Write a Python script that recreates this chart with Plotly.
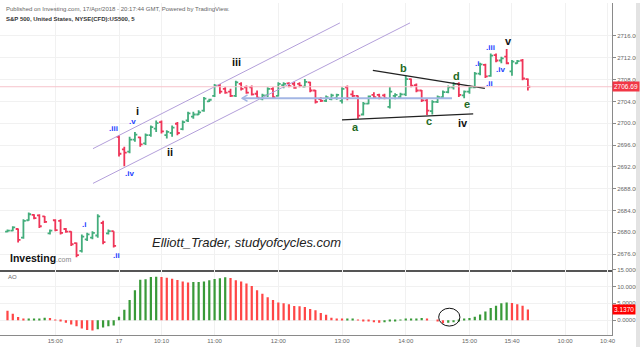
import plotly.graph_objects as go

# ---------------- data ----------------
bar_index = list(range(-21, 78))  # 5-min bars, 0 = 17 Apr 09:30

opens = [2680.1, 2680.3, 2680.6, 2679.0, 2682.2, 2683.2, 2683.1, 2682.9, 2679.8, 2682.2,
         2682.1, 2680.6, 2680.1, 2678.0, 2676.6, 2678.7, 2679.0, 2679.4, 2681.7, 2679.8, 2680.2,
         2697.5, 2695.2, 2694.8, 2697.0, 2697.4, 2696.3, 2697.8, 2699.0, 2700.2, 2697.8,
         2698.2, 2699.9, 2698.9, 2700.5, 2701.2, 2701.6, 2702.3, 2704.0, 2705.0, 2706.9,
         2706.3, 2705.8, 2705.0, 2707.2, 2706.6,
         2706.6, 2705.4, 2704.5, 2705.1, 2706.3, 2705.0, 2707.0, 2707.3, 2707.2, 2707.2,
         2706.7, 2707.5, 2706.0, 2704.4, 2704.1, 2704.4, 2704.6, 2704.1, 2706.6, 2705.3,
         2705.0, 2701.6, 2703.6, 2705.2, 2705.2, 2705.1, 2703.0, 2705.0,
         2704.8, 2705.3, 2708.1, 2707.0, 2706.0, 2704.2, 2702.2, 2703.9, 2704.8, 2705.7, 2706.6,
         2707.2, 2705.1, 2705.8, 2706.6, 2709.1, 2710.7, 2708.7, 2712.5, 2711.5, 2712.2,
         2709.5, 2711.0, 2711.5, 2708.1]
highs = [2680.5, 2681.1, 2680.7, 2682.4, 2683.6, 2683.3, 2683.3, 2683.0, 2680.5, 2682.4,
         2682.4, 2680.8, 2680.2, 2678.1, 2679.6, 2679.9, 2680.2, 2683.3, 2682.1, 2680.5, 2680.2,
         2697.8, 2695.7, 2697.5, 2698.4, 2697.5, 2698.1, 2699.6, 2700.5, 2700.5, 2698.7,
         2699.6, 2700.2, 2700.5, 2702.1, 2702.1, 2702.4, 2704.8, 2704.5, 2707.2, 2707.2,
         2706.6, 2706.3, 2707.8, 2707.5, 2706.9,
         2706.9, 2706.0, 2705.4, 2706.6, 2706.6, 2707.5, 2707.5, 2707.5, 2707.6, 2707.5,
         2708.1, 2707.6, 2706.1, 2704.8, 2705.1, 2705.4, 2705.4, 2706.6, 2706.9, 2706.0,
         2705.1, 2703.9, 2705.1, 2705.7, 2705.4, 2705.4, 2706.6, 2705.5,
         2705.6, 2708.7, 2708.2, 2707.3, 2706.1, 2704.5, 2704.2, 2705.1, 2706.0, 2706.9, 2707.5,
         2707.5, 2706.0, 2706.9, 2709.4, 2711.1, 2710.9, 2712.8, 2712.8, 2712.2, 2713.6,
         2711.6, 2711.6, 2711.8, 2708.2]
lows = [2680.0, 2680.2, 2678.1, 2678.8, 2682.1, 2682.4, 2680.8, 2681.7, 2679.6, 2680.2,
        2679.6, 2679.9, 2677.5, 2675.4, 2676.3, 2678.4, 2678.7, 2679.0, 2677.8, 2679.6, 2677.2,
        2693.9, 2692.1, 2694.5, 2696.6, 2695.7, 2696.0, 2697.5, 2698.4, 2698.1, 2697.2,
        2697.5, 2697.8, 2698.7, 2700.2, 2700.8, 2701.5, 2702.1, 2703.9, 2704.8, 2705.4,
        2705.4, 2704.8, 2704.8, 2706.0, 2705.4,
        2705.1, 2704.5, 2704.2, 2704.8, 2704.5, 2704.9, 2706.4, 2706.6, 2706.3, 2706.6,
        2706.6, 2705.7, 2703.6, 2703.9, 2703.9, 2704.2, 2704.3, 2703.6, 2704.2, 2704.8,
        2700.8, 2701.4, 2703.5, 2704.6, 2704.4, 2704.4, 2702.7, 2704.4,
        2704.6, 2705.0, 2706.6, 2705.7, 2703.9, 2701.5, 2701.6, 2703.7, 2704.5, 2705.5, 2706.2,
        2704.8, 2704.6, 2705.4, 2706.4, 2708.8, 2708.3, 2708.5, 2711.2, 2711.0, 2710.8,
        2708.7, 2710.9, 2707.9, 2706.0]
closes = [2680.3, 2680.9, 2678.6, 2682.1, 2683.3, 2682.6, 2681.1, 2681.9, 2680.3, 2680.4,
          2679.9, 2680.1, 2677.8, 2675.8, 2679.2, 2679.6, 2679.9, 2682.9, 2678.2, 2680.2, 2677.5,
          2694.4, 2694.6, 2697.0, 2697.9, 2696.1, 2697.8, 2699.3, 2700.0, 2698.5, 2698.4,
          2699.2, 2698.2, 2700.2, 2701.8, 2701.6, 2702.0, 2704.5, 2704.3, 2706.9, 2705.8,
          2705.6, 2705.0, 2707.5, 2706.3, 2705.6,
          2705.3, 2704.7, 2705.1, 2706.3, 2704.8, 2707.2, 2707.2, 2706.8, 2706.5, 2706.9,
          2707.6, 2706.0, 2703.9, 2704.1, 2704.8, 2705.1, 2705.2, 2706.3, 2704.6, 2705.0,
          2701.4, 2703.6, 2704.9, 2704.8, 2704.7, 2704.6, 2705.8, 2705.2,
          2705.3, 2708.1, 2706.9, 2706.0, 2704.2, 2702.3, 2703.9, 2704.8, 2705.7, 2706.6, 2707.2,
          2705.2, 2705.8, 2706.6, 2709.1, 2710.8, 2708.6, 2712.4, 2711.5, 2711.9, 2711.0,
          2711.3, 2711.4, 2708.2, 2706.69]

ao_values = [2.8, 1.9, 0.9, 0.3, 0.35, 0.4, 0.5, 0.7, 0.6, 0.1,
             -0.4, -0.8, -1.3, -1.8, -2.5, -2.9, -3.1, -2.7, -2.2, -1.8, -1.6,
             1.0, 3.1, 6.0, 8.9, 12.0, 12.1, 12.8, 12.9, 12.8, 12.6,
             12.3, 11.9, 11.5, 11.2, 11.3, 11.35, 11.5, 11.8, 12.2, 12.4,
             12.7, 12.5, 11.8, 11.5, 10.9, 10.1, 8.9, 7.8, 6.8, 6.0,
             5.2, 5.0, 4.7, 4.2, 4.1, 3.9, 3.3, 2.9, 2.1, 1.6,
             0.7, 0.3, 0.2, 0.3, 0.35, -0.1, -0.3, -0.4, -0.6, -0.8,
             -0.6, -0.4, -0.2, -0.1, 0.2, 0.4, 0.5, 0.6, 0.4, 0.0,
             -0.4, -0.9, -0.8, -0.6, -0.4, 0.2, 0.6, 1.0, 1.7, 2.6,
             3.6, 4.3, 5.0, 5.2, 5.1, 4.7, 4.3, 3.137]

time_tick_pos = [-12, 0, 8, 18, 30, 42, 54, 66, 74, 84, 92]
time_tick_text = ["15:00", "17", "10:10", "11:00", "12:00", "13:00", "14:00",
                  "15:00", "15:40", "10:00", "10:40"]
price_ticks = list(range(2676, 2717, 4))
ao_ticks = [0, 5, 10, 15]
last_price = 2706.69
last_ao = 3.137

# drawings (bar index, price)
channel_upper = [(-4.9, 2695.33), (41.6, 2718.4)]
channel_lower = [(-4.9, 2688.96), (54.8, 2718.4)]
tri_upper = [(47.8, 2709.7), (68.9, 2706.4)]
tri_lower = [(42.0, 2700.6), (66.7, 2701.7)]
blue_arrow = [(62.7, 2704.6), (23.2, 2704.6)]

blue_labels = [(".iii", -1.1, 2699.0), (".v", 2.6, 2700.4), (".iv", 1.9, 2690.8),
               (".i", -6.6, 2681.5), (".ii", -0.4, 2675.7), (".i", 67.4, 2711.0),
               (".iii", 69.9, 2713.9), (".ii", 69.7, 2707.3), (".iv", 71.8, 2709.9)]
black_labels = [("i", 3.4, 2702.2), ("ii", 9.6, 2694.8), ("iii", 22.2, 2711.3),
                ("iv", 64.8, 2700.0), ("v", 73.4, 2715.0)]
green_labels = [("a", 44.6, 2699.3), ("b", 53.5, 2710.05), ("c", 58.4, 2700.4),
                ("d", 63.5, 2708.6), ("e", 65.5, 2703.5)]

# ---------------- style ----------------
GREEN = "#43ad7c"
RED = "#ef3558"
AO_GREEN = "#399a39"
AO_RED = "#ff4646"
FONT = "Liberation Sans, Arial, sans-serif"
GRID = "#f1f1f1"
AX = "#8a8a8a"

ao_colors = []
for k, v in enumerate(ao_values):
    if k == 0 or v < ao_values[k - 1]:
        ao_colors.append(AO_RED)
    else:
        ao_colors.append(AO_GREEN)

fig = go.Figure()
fig.add_trace(go.Ohlc(
    x=bar_index, open=opens, high=highs, low=lows, close=closes,
    increasing=dict(line=dict(color=GREEN, width=1.8)),
    decreasing=dict(line=dict(color=RED, width=1.8)),
    tickwidth=0.45, xaxis="x", yaxis="y", hoverinfo="skip"))
fig.add_trace(go.Bar(
    x=bar_index, y=ao_values, marker=dict(color=ao_colors, line=dict(width=0)),
    width=0.42, xaxis="x2", yaxis="y2", hoverinfo="skip"))

W, H = 640, 347
PW, PH = 612, 335
split = (PH - 269) / PH

def px(xp, yp):
    return xp / PW, 1 - yp / PH

xr = [-22.41, 92.84]
fig.update_layout(
    width=W, height=H, margin=dict(l=0, r=W - PW, t=0, b=H - PH),
    paper_bgcolor="white", plot_bgcolor="white", showlegend=False,
    font=dict(family=FONT, size=6, color="#666"),
    xaxis=dict(domain=[0, 1], range=xr, anchor="y", tickvals=time_tick_pos,
               showticklabels=False, showgrid=True, gridcolor=GRID, zeroline=False,
               showline=True, linecolor="#555", linewidth=1.5,
               rangeslider=dict(visible=False), ticks=""),
    xaxis2=dict(domain=[0, 1], range=xr, anchor="y2", tickvals=time_tick_pos,
                ticktext=time_tick_text, showgrid=True, gridcolor=GRID, zeroline=False,
                showline=True, linecolor=AX, linewidth=1, ticks="",
                tickfont=dict(size=6, color="#666")),
    yaxis=dict(domain=[split, 1], range=[2673.15, 2722.05], side="right", anchor="x",
               tickvals=price_ticks, tickformat=".2f", ticks="outside", ticklen=3,
               tickcolor=AX, showline=True, linecolor=AX, gridcolor=GRID,
               zeroline=False, tickfont=dict(size=6, color="#666")),
    yaxis2=dict(domain=[0, split], range=[-4.41, 15.0], side="right", anchor="x2",
                tickvals=ao_ticks, tickformat=".4f", ticks="outside", ticklen=3,
                tickcolor=AX, showline=True, linecolor=AX, gridcolor=GRID,
                zeroline=False, tickfont=dict(size=6, color="#666")),
)

shapes = []
for (p0, p1), col, w in [(channel_upper, "#b39fda", 1), (channel_lower, "#b39fda", 1),
                         (tri_upper, "#222", 1.2), (tri_lower, "#222", 1.2)]:
    shapes.append(dict(type="line", xref="x", yref="y", x0=p0[0], y0=p0[1],
                       x1=p1[0], y1=p1[1], line=dict(color=col, width=w)))
# blue arrow
(a0, a1) = blue_arrow
shapes.append(dict(type="line", xref="x", yref="y", x0=a0[0], y0=a0[1], x1=a1[0], y1=a1[1],
                   line=dict(color="#a3b6e4", width=2)))
shapes.append(dict(type="path", xref="x", yref="y",
                   path=f"M {a1[0]+1.0},{a1[1]+0.6} L {a1[0]},{a1[1]} L {a1[0]+1.0},{a1[1]-0.6}",
                   line=dict(color="#a3b6e4", width=1.5)))
# last price line
shapes.append(dict(type="line", xref="x domain", yref="y", x0=0, x1=1,
                   y0=last_price, y1=last_price, line=dict(color="#f6c3cb", width=1)))
# circle in AO pane
shapes.append(dict(type="circle", xref="x2", yref="y2", x0=60.2, x1=64.2, y0=-1.76, y1=3.53,
                   line=dict(color="#111", width=1)))
# right strip
shapes.append(dict(type="rect", xref="paper", yref="paper", x0=636 / PW, x1=W / PW,
                   y0=-(H - PH) / PH, y1=1, fillcolor="#e3e3e3", line=dict(width=0)))
fig.update_layout(shapes=shapes)

ann = []
def add_text(text, x, y, size, color, xanchor="left"):
    xx, yy = px(x, y)
    ann.append(dict(text=text, x=xx, y=yy, xref="paper", yref="paper", showarrow=False,
                    xanchor=xanchor, yanchor="middle",
                    font=dict(size=size, color=color, family=FONT)))

add_text("Published on Investing.com, 17/Apr/2018 - 20:17:44 GMT, Powered by TradingView.",
         4, 6, 6, "#666")
add_text("<b>S&P 500, United States, NYSE(CFD):US500, 5</b>", 4, 16.5, 6, "#333")
add_text("<i>Elliott_Trader, studyofcycles.com</i>", 150, 242, 13, "#222")
add_text("<b>Investing</b><span style='font-size:7px;color:#888'>.com</span>", 8, 257, 10.5, "#111")
add_text("AO", 6, 276, 6, "#666")

for t, xi, p in blue_labels:
    ann.append(dict(text=f"<b>{t}</b>", x=xi, y=p, xref="x", yref="y", showarrow=False,
                    font=dict(size=8, color="#2340ff", family=FONT)))
for t, xi, p in black_labels:
    ann.append(dict(text=f"<b>{t}</b>", x=xi, y=p, xref="x", yref="y", showarrow=False,
                    font=dict(size=11, color="#111", family=FONT)))
for t, xi, p in green_labels:
    ann.append(dict(text=f"<b>{t}</b>", x=xi, y=p, xref="x", yref="y", showarrow=False,
                    font=dict(size=11, color="#1f6a1f", family=FONT)))

# last value badges
ann.append(dict(text=f"{last_price:.2f}", x=1.0, y=last_price, xref="paper", yref="y",
                xanchor="left", yanchor="middle", showarrow=False, bgcolor="#f23645",
                borderpad=1, font=dict(size=6.5, color="white", family=FONT)))
ann.append(dict(text=f"{last_ao:.4f}", x=1.0, y=last_ao, xref="paper", yref="y2",
                xanchor="left", yanchor="middle", showarrow=False, bgcolor="#ff0000",
                borderpad=1, font=dict(size=6.5, color="white", family=FONT)))
fig.update_layout(annotations=ann)

fig.write_html("out.html")
